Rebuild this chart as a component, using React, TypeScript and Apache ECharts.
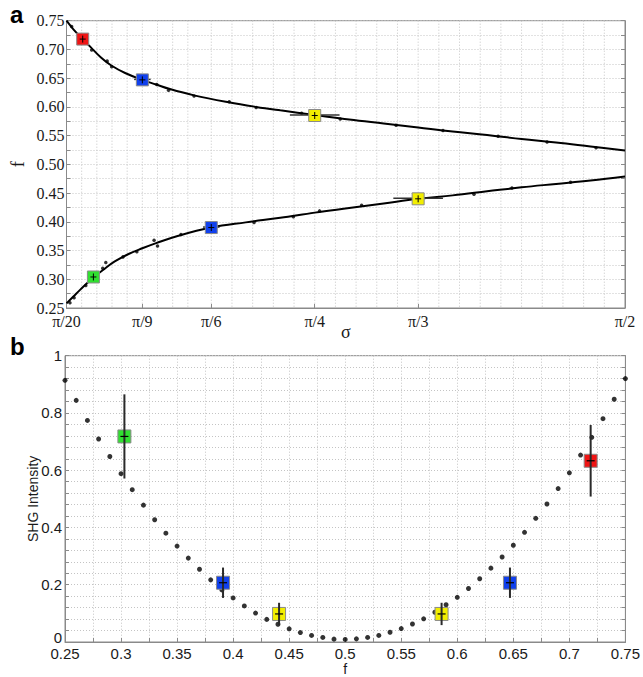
import React, { useEffect, useRef } from 'react';
import * as echarts from 'echarts';

// ---------- Panel a data ----------
const sigmaTickDeg = [9, 20, 30, 45, 60, 90];
const sigmaTickLabels = ['π/20', 'π/9', 'π/6', 'π/4', 'π/3', 'π/2'];
const sigmaGridDeg = [11.2, 13.4, 15.6, 17.8, 20, 22.2, 24.4, 26.6, 30, 33, 36, 39, 42, 45, 48, 51, 54, 57, 60, 63, 66, 69, 72, 75, 78, 81, 84, 87];

const upperCurveSigma = [9, 10, 11.35, 12.5, 14, 15.5, 17.5, 20, 22, 24, 27.5, 32.5, 36.5, 40, 45, 50, 55, 60, 65, 70, 75, 80, 85, 90];
const upperCurveF = [0.750, 0.735, 0.718, 0.704, 0.686, 0.672, 0.659, 0.647, 0.639, 0.631, 0.620, 0.608, 0.600, 0.594, 0.586, 0.578, 0.571, 0.564, 0.557, 0.551, 0.544, 0.538, 0.531, 0.524];

const lowerCurveSigma = [9, 10, 11, 12.9, 14.5, 16, 18, 20, 22, 25, 30, 35, 40, 45, 50, 55, 60, 65, 70, 75, 80, 85, 90];
const lowerCurveF = [0.258, 0.270, 0.282, 0.303, 0.318, 0.331, 0.344, 0.354, 0.363, 0.375, 0.390, 0.399, 0.407, 0.416, 0.424, 0.432, 0.440, 0.446, 0.453, 0.460, 0.466, 0.472, 0.479];

const upperDotsSigma = [9.75, 12.65, 14.9, 15.55, 22.1, 23.8, 27.5, 32.6, 36.5, 43.1, 48.7, 56.8, 63.6, 71.6, 78.7, 85.8];
const upperDotsF = [0.740, 0.699, 0.680, 0.670, 0.639, 0.629, 0.619, 0.609, 0.599, 0.589, 0.579, 0.568, 0.559, 0.549, 0.539, 0.529];
const lowerDotsSigma = [9.5, 10.1, 11.8, 14.25, 14.7, 17.2, 19.2, 21.7, 22.2, 25.6, 36.2, 41.9, 45.7, 51.8, 68.1, 73.6, 82.1];
const lowerDotsF = [0.259, 0.268, 0.289, 0.319, 0.329, 0.339, 0.348, 0.368, 0.358, 0.378, 0.399, 0.409, 0.419, 0.429, 0.448, 0.459, 0.469];

// measured points: sigma (deg), f, sigma error (deg)
const measSigma = [11.35, 12.9, 20, 30, 45, 60];
const measF = [0.718, 0.304, 0.647, 0.390, 0.585, 0.440];
const measSigmaErr = [0.3, 0.3, 1.2, 1.2, 3.6, 3.6];
const measColors = ['#f01414', '#30e030', '#1040ee', '#1040ee', '#f2ee00', '#f2ee00'];

// ---------- Panel b data ----------
const fValues = [0.25, 0.26, 0.27, 0.28, 0.29, 0.30, 0.31, 0.32, 0.33, 0.34, 0.35, 0.36, 0.37, 0.38, 0.39, 0.40, 0.41, 0.42, 0.43, 0.44, 0.45, 0.46, 0.47, 0.48, 0.49, 0.50, 0.51, 0.52, 0.53, 0.54, 0.55, 0.56, 0.57, 0.58, 0.59, 0.60, 0.61, 0.62, 0.63, 0.64, 0.65, 0.66, 0.67, 0.68, 0.69, 0.70, 0.71, 0.72, 0.73, 0.74, 0.75];
const shgValues = [0.914, 0.844, 0.774, 0.709, 0.648, 0.588, 0.532, 0.478, 0.427, 0.380, 0.335, 0.293, 0.254, 0.217, 0.182, 0.154, 0.126, 0.101, 0.079, 0.062, 0.046, 0.033, 0.023, 0.016, 0.010, 0.009, 0.011, 0.016, 0.023, 0.034, 0.047, 0.063, 0.081, 0.104, 0.130, 0.156, 0.187, 0.221, 0.258, 0.297, 0.338, 0.383, 0.432, 0.482, 0.536, 0.591, 0.653, 0.715, 0.780, 0.848, 0.920];

const shgMeasF = [0.303, 0.391, 0.441, 0.586, 0.647, 0.719];
const shgMeasV = [0.718, 0.207, 0.098, 0.098, 0.207, 0.633];
const shgMeasErr = [0.147, 0.053, 0.039, 0.039, 0.053, 0.125];
const shgMeasColors = ['#30e030', '#1040ee', '#f2ee00', '#f2ee00', '#1040ee', '#f01414'];

const SERIF = "'Liberation Serif', 'DejaVu Serif', 'Times New Roman', serif";
const SANS = "'Liberation Sans', Arial, sans-serif";
const AXIS_COLOR = '#8a8a8a';
const GRID_COLOR = '#c4c4c4';
const TEXT_COLOR = '#1a1a1a';

export default function App() {
  const ref = useRef<HTMLDivElement>(null);

  useEffect(() => {
    document.body.style.margin = '0';
    const chart = echarts.init(ref.current!, null, { renderer: 'svg' });

    const gridLineStyle = { color: GRID_COLOR, width: 1, type: [1, 2] as any };

    const squaresA = measSigma.map((s, i) => ({
      value: [s, measF[i], measSigmaErr[i]],
      itemStyle: { color: measColors[i] },
    }));
    const squaresB = shgMeasF.map((f, i) => ({
      value: [f, shgMeasV[i], shgMeasErr[i]],
      itemStyle: { color: shgMeasColors[i] },
    }));

    const option: any = {
      animation: false,
      backgroundColor: '#ffffff',
      grid: [
        { left: 66.5, top: 20.7, width: 558.5, height: 287.3, show: true, borderColor: AXIS_COLOR, borderWidth: 1, backgroundColor: 'transparent' },
        { left: 65, top: 355.7, width: 562.7, height: 289.6, show: true, borderColor: AXIS_COLOR, borderWidth: 1, backgroundColor: 'transparent' },
      ],
      graphic: [
        { type: 'text', left: 10, top: 2, style: { text: 'a', font: `bold 24px ${SANS}`, fill: '#000' } },
        { type: 'text', left: 10, top: 334, style: { text: 'b', font: `bold 24px ${SANS}`, fill: '#000' } },
      ],
      xAxis: [
        {
          gridIndex: 0, type: 'value', min: 9, max: 90, position: 'bottom',
          name: 'σ', nameLocation: 'middle', nameGap: 15, nameMoveOverlap: false,
          nameTextStyle: { fontFamily: SERIF, fontSize: 18, color: TEXT_COLOR },
          axisLine: { show: true, lineStyle: { color: AXIS_COLOR } },
          axisTick: { show: true, inside: true, length: 4, customValues: sigmaTickDeg, lineStyle: { color: AXIS_COLOR } },
          axisLabel: {
            customValues: sigmaTickDeg, margin: 7, fontFamily: SERIF, fontSize: 16, lineHeight: 13, color: TEXT_COLOR,
            formatter: (v: number) => {
              const idx = sigmaTickDeg.findIndex((t) => Math.abs(t - v) < 1e-6);
              return idx >= 0 ? sigmaTickLabels[idx] : '';
            },
          },
          splitLine: { show: false },
        },
        {
          gridIndex: 1, type: 'value', min: 0.25, max: 0.75, interval: 0.025, position: 'bottom',
          name: 'f', nameLocation: 'middle', nameGap: 21, nameMoveOverlap: false,
          nameTextStyle: { fontFamily: SANS, fontSize: 14, lineHeight: 12, color: TEXT_COLOR },
          axisLine: { show: true, lineStyle: { color: AXIS_COLOR } },
          axisTick: { show: true, inside: true, length: 4, lineStyle: { color: AXIS_COLOR } },
          axisLabel: {
            margin: 5, fontFamily: SANS, fontSize: 15, lineHeight: 12, color: TEXT_COLOR, showMinLabel: true, showMaxLabel: true, hideOverlap: false,
            formatter: (v: number) => {
              const k = Math.round(v * 1000);
              return k % 50 === 0 ? String(parseFloat(v.toFixed(2))) : '';
            },
          },
          splitLine: { show: true, lineStyle: gridLineStyle },
        },
      ],
      yAxis: [
        {
          gridIndex: 0, type: 'value', min: 0.25, max: 0.75, interval: 0.025, position: 'left',
          name: 'f', nameLocation: 'middle', nameGap: 40, nameRotate: 90, nameMoveOverlap: false,
          nameTextStyle: { fontFamily: SERIF, fontSize: 18, color: TEXT_COLOR },
          axisLine: { show: true, lineStyle: { color: AXIS_COLOR } },
          axisTick: { show: true, inside: true, length: 4, lineStyle: { color: AXIS_COLOR } },
          axisLabel: {
            margin: 2, fontFamily: SERIF, fontSize: 16, lineHeight: 12, color: TEXT_COLOR, hideOverlap: false,
            formatter: (v: number) => {
              const k = Math.round(v * 1000);
              return k % 50 === 0 ? v.toFixed(2) : '';
            },
          },
          splitLine: { show: true, lineStyle: gridLineStyle },
        },
        {
          gridIndex: 0, type: 'value', min: 0.25, max: 0.75, interval: 0.025, position: 'right',
          axisLine: { show: true, lineStyle: { color: AXIS_COLOR } },
          axisTick: { show: true, inside: true, length: 4, lineStyle: { color: AXIS_COLOR } },
          axisLabel: { show: false },
          splitLine: { show: false },
        },
        {
          gridIndex: 1, type: 'value', min: 0, max: 1, interval: 0.04, position: 'left',
          name: 'SHG Intensity', nameLocation: 'middle', nameGap: 25, nameRotate: 90, nameMoveOverlap: false,
          nameTextStyle: { fontFamily: SANS, fontSize: 14, color: TEXT_COLOR },
          axisLine: { show: true, lineStyle: { color: AXIS_COLOR } },
          axisTick: { show: true, inside: true, length: 4, lineStyle: { color: AXIS_COLOR } },
          axisLabel: {
            margin: 3, fontFamily: SANS, fontSize: 15, lineHeight: 10, color: TEXT_COLOR, hideOverlap: false,
            formatter: (v: number) => {
              const k = Math.round(v * 100);
              if (k === 0) return '{z|0}';
              return k % 20 === 0 ? String(parseFloat(v.toFixed(1))) : '';
            },
            rich: {
              z: { fontFamily: SANS, fontSize: 15, lineHeight: 10, color: TEXT_COLOR, padding: [0, 0, 9, 0] },
            },
          },
          splitLine: { show: true, lineStyle: gridLineStyle },
        },
        {
          gridIndex: 1, type: 'value', min: 0, max: 1, interval: 0.04, position: 'right',
          axisLine: { show: true, lineStyle: { color: AXIS_COLOR } },
          axisTick: { show: true, inside: true, length: 4, lineStyle: { color: AXIS_COLOR } },
          axisLabel: { show: false },
          splitLine: { show: false },
        },
      ],
      series: [
        // vertical grid lines for panel a
        {
          type: 'custom', xAxisIndex: 0, yAxisIndex: 0, z: 0, silent: true,
          data: sigmaGridDeg.map((d) => [d, 0.5]),
          renderItem: (params: any, api: any) => {
            const c = api.coord([api.value(0), api.value(1)]);
            const cs = params.coordSys;
            return {
              type: 'line',
              shape: { x1: c[0], y1: cs.y, x2: c[0], y2: cs.y + cs.height },
              style: { stroke: GRID_COLOR, lineWidth: 1, lineDash: [1, 2] },
            };
          },
        },
        {
          type: 'line', xAxisIndex: 0, yAxisIndex: 0, smooth: 0.4, symbol: 'none', silent: true,
          data: upperCurveSigma.map((s, i) => [s, upperCurveF[i]]),
          lineStyle: { color: '#000', width: 2 },
        },
        {
          type: 'line', xAxisIndex: 0, yAxisIndex: 0, smooth: 0.4, symbol: 'none', silent: true,
          data: lowerCurveSigma.map((s, i) => [s, lowerCurveF[i]]),
          lineStyle: { color: '#000', width: 2 },
        },
        {
          type: 'scatter', xAxisIndex: 0, yAxisIndex: 0, symbolSize: 3.5, silent: true,
          itemStyle: { color: '#000' },
          data: upperDotsSigma.map((s, i) => [s, upperDotsF[i]]).concat(lowerDotsSigma.map((s, i) => [s, lowerDotsF[i]])),
        },
        {
          type: 'custom', xAxisIndex: 0, yAxisIndex: 0, z: 5, silent: true,
          data: squaresA,
          renderItem: (params: any, api: any) => {
            const x = api.value(0), y = api.value(1), e = api.value(2);
            const c = api.coord([x, y]);
            const l = api.coord([x - e, y]);
            const r = api.coord([x + e, y]);
            const s = 12;
            return {
              type: 'group',
              children: [
                { type: 'line', shape: { x1: l[0], y1: c[1] - 0.5, x2: r[0], y2: c[1] - 0.5 }, style: { stroke: '#333', lineWidth: 1.5 } },
                { type: 'rect', shape: { x: c[0] - s / 2, y: c[1] - s / 2, width: s, height: s }, style: { fill: api.visual('color'), stroke: '#8a8a8a', lineWidth: 1 } },
                { type: 'line', shape: { x1: c[0] - 3, y1: c[1], x2: c[0] + 3, y2: c[1] }, style: { stroke: '#000', lineWidth: 1 } },
                { type: 'line', shape: { x1: c[0], y1: c[1] - 3.5, x2: c[0], y2: c[1] + 3.5 }, style: { stroke: '#000', lineWidth: 1 } },
              ],
            };
          },
        },
        // panel b
        {
          type: 'scatter', xAxisIndex: 1, yAxisIndex: 2, symbolSize: 5, silent: true,
          itemStyle: { color: '#000' },
          data: fValues.map((f, i) => [f, shgValues[i]]),
        },
        {
          type: 'custom', xAxisIndex: 1, yAxisIndex: 2, z: 5, silent: true,
          data: squaresB,
          renderItem: (params: any, api: any) => {
            const x = api.value(0), y = api.value(1), e = api.value(2);
            const c = api.coord([x, y]);
            const t = api.coord([x, y + e]);
            const b = api.coord([x, y - e]);
            const s = 13;
            return {
              type: 'group',
              children: [
                { type: 'rect', shape: { x: c[0] - s / 2, y: c[1] - s / 2, width: s, height: s }, style: { fill: api.visual('color'), stroke: '#8a8a8a', lineWidth: 1 } },
                { type: 'line', shape: { x1: c[0], y1: t[1], x2: c[0], y2: b[1] }, style: { stroke: '#2a2a2a', lineWidth: 2 } },
                { type: 'line', shape: { x1: c[0] - 4, y1: c[1], x2: c[0] + 4, y2: c[1] }, style: { stroke: '#000', lineWidth: 1.2 } },
              ],
            };
          },
        },
      ],
    };

    chart.setOption(option);
    return () => chart.dispose();
  }, []);

  return <div ref={ref} style={{ position: 'absolute', left: 0, top: 0, width: 643, height: 677 }} />;
}
